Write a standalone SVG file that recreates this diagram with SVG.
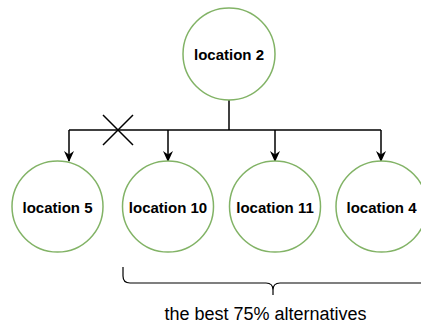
<svg xmlns="http://www.w3.org/2000/svg" width="421" height="324" viewBox="0 0 421 324">
<defs>
<style>
.node{fill:#ffffff;stroke:#82b366;stroke-width:1.5}
.lbl{font-family:"Liberation Sans",Arial,sans-serif;font-size:15px;font-weight:bold;fill:#000;text-anchor:middle}
.edge{fill:none;stroke:#000;stroke-width:1.5}
</style>
<marker id="arr" viewBox="0 0 10 10" refX="9" refY="5" markerWidth="11" markerHeight="10" markerUnits="userSpaceOnUse" orient="auto" preserveAspectRatio="none">
<path d="M0,0 L10,5 L0,10 L3,5 Z" fill="#000"/>
</marker>
</defs>
<rect width="421" height="324" fill="#ffffff"/>
<g id="connectors">
<path class="edge" d="M229,100 V130"/>
<path class="edge" d="M69,130 H381"/>
<path class="edge" d="M69,130 V161" marker-end="url(#arr)"/>
<path class="edge" d="M168,130 V161" marker-end="url(#arr)"/>
<path class="edge" d="M275,130 V161" marker-end="url(#arr)"/>
<path class="edge" d="M381,130 V161" marker-end="url(#arr)"/>
</g>
<g id="cross">
<path class="edge" d="M103,115 L133,145 M133,115 L103,145"/>
</g>
<g id="location2">
<circle class="node" cx="229" cy="54" r="46"/>
<text class="lbl" x="229" y="60">location 2</text>
</g>
<g id="location5">
<circle class="node" cx="57.5" cy="206.5" r="45.5"/>
<text class="lbl" x="57.5" y="213">location 5</text>
</g>
<g id="location10">
<circle class="node" cx="168" cy="206.5" r="45.5"/>
<text class="lbl" x="168" y="213">location 10</text>
</g>
<g id="location11">
<circle class="node" cx="275" cy="206.5" r="45.5"/>
<text class="lbl" x="275" y="213">location 11</text>
</g>
<g id="location4">
<circle class="node" cx="381.5" cy="206.5" r="45.5"/>
<text class="lbl" x="381.5" y="213">location 4</text>
</g>
<g id="brace">
<path fill="none" stroke="#000" stroke-width="1.2" d="M123,267 V276 Q123,283 130,283 H266 Q273,283 273,290 V295 M273,295 V290 Q273,283 280,283 H430"/>
<text x="265.5" y="320" font-family="'Liberation Sans',Arial,sans-serif" font-size="18" text-anchor="middle" fill="#000">the best 75% alternatives</text>
</g>
</svg>
